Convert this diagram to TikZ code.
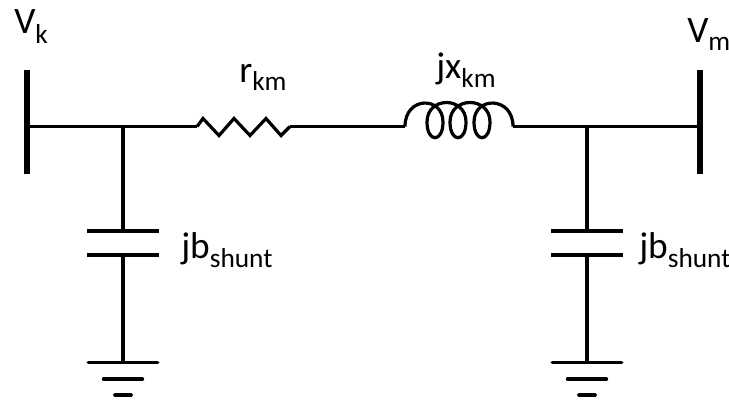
\documentclass[tikz,border=0pt]{standalone}
\usepackage{fontspec}
\setmainfont{Carlito}
\tikzset{
  wire/.style={line width=2.8pt},
  busbar/.style={line width=4pt},
  plate/.style={line width=3.4pt},
  earth/.style={line width=2.8pt,line cap=round},
  element/.style={line width=2.4pt},
  lbl/.style={inner sep=0pt,font=\fontsize{28}{28}\selectfont,anchor=base west}
}
\newcommand{\lblsub}[3]{#1\raisebox{#3}{\fontsize{20.5}{20.5}\selectfont #2}}
\begin{document}
\begin{tikzpicture}[x=0.75pt,y=-0.75pt]
  \useasboundingbox (0,0) rectangle (729,401);
  \draw
    (27,126.5) coordinate (k)
    (27,70) coordinate (ktop)
    (27,174) coordinate (kbot)
    (700,126.5) coordinate (m)
    (700,70) coordinate (mtop)
    (700,174) coordinate (mbot)
    (123,126.5) coordinate (a)
    (587,126.5) coordinate (b)
    (197,126.5) coordinate (r0)
    (290,126.5) coordinate (r1)
    (405,126.5) coordinate (x0)
    (513,126.5) coordinate (x1);
  \node[lbl] (vk) at (14,33) {\lblsub{V}{k}{-7.5pt}};
  \node[lbl] (vm) at (687,42) {\lblsub{V}{m}{-6pt}};
  \node[lbl] (rkm) at (239,82) {\lblsub{r}{km}{-6pt}};
  \node[lbl] (xkm) at (436,78) {\lblsub{jx}{km}{-7pt}};
  \node[lbl] (ba) at (181,258) {\lblsub{jb}{shunt}{-7pt}};
  \node[lbl] (bb) at (639,258) {\lblsub{jb}{shunt}{-7pt}};
  % buses
  \draw[busbar] (ktop) -- (kbot);
  \draw[busbar] (mtop) -- (mbot);
  % series branch
  \draw[wire] (k) -- (r0);
  \draw[wire] (r1) -- (x0);
  \draw[wire] (x1) -- (m);
  \draw[element] (r0) -- ++(6,-8) -- ++(16,17) -- ++(15,-17) -- ++(16,17) -- ++(16,-17) -- ++(15,17) -- (r1);
  \draw[element] (x0)
    .. controls (405,96) and (443,96) .. (443,122)
    .. controls (443,143) and (427,143) .. (427,122)
    .. controls (427,96) and (466,96) .. (466,122)
    .. controls (466,143) and (450,143) .. (450,122)
    .. controls (450,96) and (490,96) .. (490,122)
    .. controls (490,143) and (474,143) .. (474,122)
    .. controls (474,96) and (513,96) .. (x1);
  % shunt branches
  \foreach \j/\s in {a/123,b/587} {
    \coordinate (\j p1) at (\s,231);
    \coordinate (\j p2) at (\s,255);
    \coordinate (\j g) at (\s,362.5);
    \draw[wire] (\j) -- (\j p1);
    \draw[wire] (\j p2) -- (\j g);
    \draw[plate] ([xshift=-27pt]\j p1) -- ([xshift=27pt]\j p1);
    \draw[plate] ([xshift=-27pt]\j p2) -- ([xshift=27pt]\j p2);
    \draw[earth] ([xshift=-26pt]\j g) -- ([xshift=26pt]\j g);
    \draw[earth] ([xshift=-14.5pt,yshift=-12.5pt]\j g) -- ([xshift=14.5pt,yshift=-12.5pt]\j g);
    \draw[earth] ([xshift=-6pt,yshift=-24.5pt]\j g) -- ([xshift=6pt,yshift=-24.5pt]\j g);
  }
\end{tikzpicture}
\end{document}
